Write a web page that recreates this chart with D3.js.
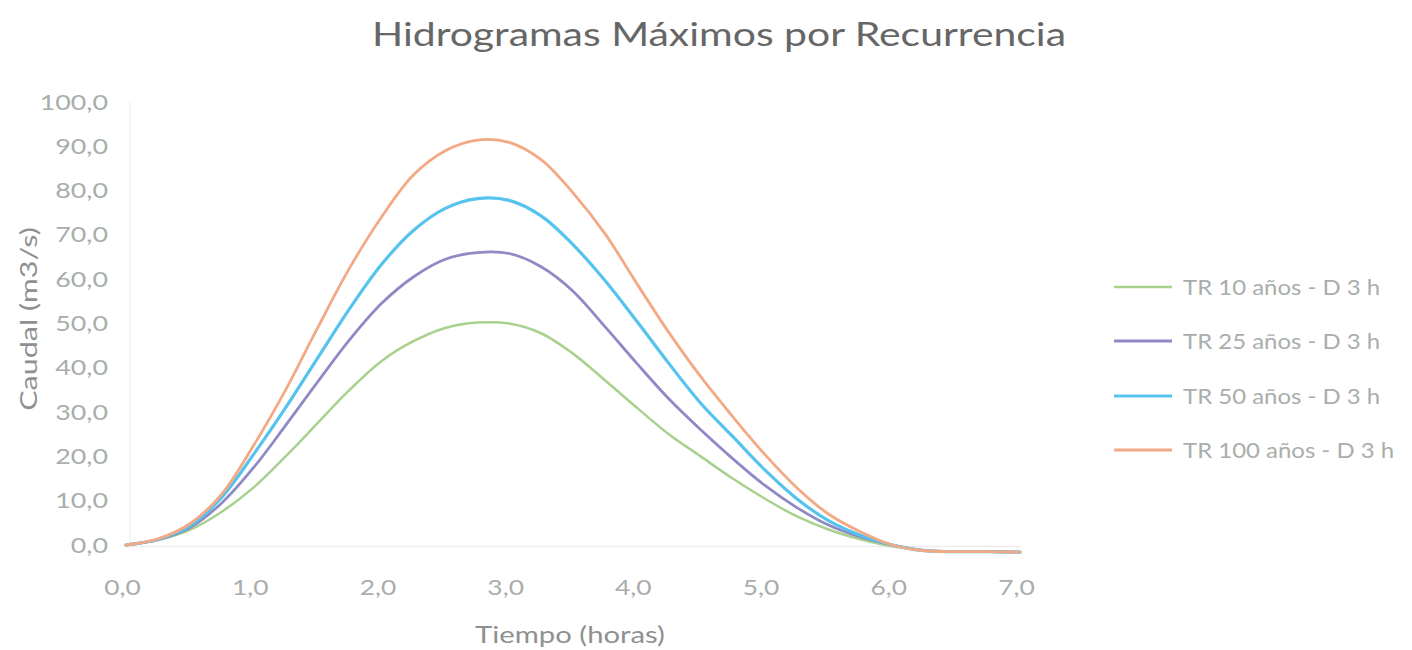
<!DOCTYPE html>
<html>
<head>
<meta charset="utf-8">
<script src="https://cdnjs.cloudflare.com/ajax/libs/d3/7.8.5/d3.min.js"></script>
<style>
  html, body { margin: 0; padding: 0; background: #ffffff; }
  svg { display: block; font-family: Lato, "Open Sans", sans-serif; }
</style>
</head>
<body>
<svg id="chart" width="1412" height="650"></svg>
<script>
// Time axis (hours) shared by every hydrograph
const hours = [0, 0.25, 0.5, 0.75, 1, 1.25, 1.5, 1.75, 2, 2.25, 2.5, 2.75, 3, 3.25, 3.5,
               3.75, 4, 4.25, 4.5, 4.75, 5, 5.25, 5.5, 5.75, 6, 6.25, 6.5, 6.75, 7];

// Discharge (m3/s) per return period, storm duration 3 h
const tr10  = [0, 1.1, 3.4, 7.5, 13.0, 20.0, 27.5, 35.0, 41.5, 46.0, 49.0, 50.2, 50.0, 47.8, 43.2,
               37.2, 31.0, 25.0, 20.0, 15.0, 10.5, 6.5, 3.5, 1.3, -0.3, -1.2, -1.5, -1.5, -1.6];
const tr25  = [0, 1.2, 3.9, 9.5, 17.5, 27.0, 36.8, 46.3, 54.5, 60.5, 64.5, 66.0, 65.8, 62.8, 57.3,
               49.3, 41.0, 33.0, 26.0, 19.5, 13.5, 8.5, 4.5, 1.8, 0.0, -1.2, -1.5, -1.5, -1.6];
const tr50  = [0, 1.3, 4.3, 10.8, 20.5, 31.0, 42.2, 53.3, 63.3, 71.0, 76.0, 78.2, 77.8, 74.3, 67.8,
               59.7, 50.5, 41.0, 32.0, 24.5, 17.0, 10.5, 5.5, 2.2, 0.0, -1.3, -1.5, -1.5, -1.6];
const tr100 = [0, 1.4, 4.8, 11.5, 22.5, 35.0, 49.0, 62.5, 74.0, 83.5, 89.0, 91.4, 90.9, 87.0, 79.5,
               70.3, 59.0, 48.0, 38.0, 29.0, 20.5, 13.0, 7.0, 3.0, 0.0, -1.3, -1.5, -1.5, -1.6];

const seriesNames  = ["TR 10 años - D 3 h", "TR 25 años - D 3 h", "TR 50 años - D 3 h", "TR 100 años - D 3 h"];
const seriesColors = ["#a9d18e", "#8f8ac6", "#55c3ee", "#f4a985"];
const seriesWidths = [2.5, 2.8, 3.2, 2.8];

const yTicks = [0, 10, 20, 30, 40, 50, 60, 70, 80, 90, 100];
const xTicks = [0, 1, 2, 3, 4, 5, 6, 7];

const titleText = "Hidrogramas Máximos por Recurrencia";
const xTitle = "Tiempo (horas)";
const yTitle = "Caudal (m3/s)";

const allSeries = [tr10, tr25, tr50, tr100];

const svg = d3.select("#chart");
const locale = d3.formatLocale({ decimal: ",", thousands: ".", grouping: [3], currency: ["", ""] });
const fmt = locale.format(".1f");

const x = d3.scaleLinear().domain([0, 7]).range([126, 1020]);
const y = d3.scaleLinear().domain([0, 100]).range([545, 102]);

const labelColor = "#a8aeab";
const titleColor = "#666666";
const axisTitleColor = "#8e9190";

// Widen text horizontally (the lettering is broad and open)
function widen(sel, k) {
  sel.each(function () {
    const len = this.getComputedTextLength();
    d3.select(this).attr("textLength", len * k).attr("lengthAdjust", "spacingAndGlyphs");
  });
}

// Title
svg.append("text")
  .attr("x", 719).attr("y", 46)
  .attr("text-anchor", "middle")
  .attr("font-size", 33)
  .attr("fill", titleColor)
  .attr("textLength", 694).attr("lengthAdjust", "spacingAndGlyphs")
  .text(titleText);

// Faint axis lines
svg.append("line")
  .attr("x1", x(0)).attr("x2", x(7)).attr("y1", y(0) + 1.5).attr("y2", y(0) + 1.5)
  .attr("stroke", "#ececec").attr("stroke-width", 1.5);
svg.append("line")
  .attr("x1", x(0) + 4).attr("x2", x(0) + 4).attr("y1", y(100)).attr("y2", y(0))
  .attr("stroke", "#f3f3f3").attr("stroke-width", 1.5);

// Y axis tick labels
const yAxis = d3.axisLeft(y).tickValues(yTicks).tickFormat(fmt).tickSize(0).tickPadding(0);
const gy = svg.append("g").attr("transform", "translate(108,0)").call(yAxis);
gy.select(".domain").remove();
gy.selectAll("text")
  .attr("font-size", 22)
  .attr("fill", labelColor)
  .attr("font-family", "Lato, sans-serif")
  .call(widen, 1.22);

// X axis tick labels
const xAxis = d3.axisBottom(x).tickValues(xTicks).tickFormat(fmt).tickSize(0).tickPadding(0);
const gx = svg.append("g").attr("transform", "translate(-4,579)").call(xAxis);
gx.select(".domain").remove();
gx.selectAll("text")
  .attr("font-size", 22)
  .attr("fill", labelColor)
  .attr("font-family", "Lato, sans-serif")
  .call(widen, 1.2);

// Axis titles
svg.append("text")
  .attr("x", 570).attr("y", 643)
  .attr("text-anchor", "middle")
  .attr("font-size", 24)
  .attr("fill", axisTitleColor)
  .text(xTitle)
  .call(widen, 1.22);
svg.append("text")
  .attr("transform", "translate(37,319) rotate(-90)")
  .attr("text-anchor", "middle")
  .attr("font-size", 24)
  .attr("fill", axisTitleColor)
  .text(yTitle)
  .call(widen, 1.27);

// Hydrograph lines
const line = d3.line()
  .x((d, i) => x(hours[i]))
  .y(d => y(d))
  .curve(d3.curveCatmullRom.alpha(0.5));

svg.append("g").selectAll("path")
  .data(allSeries)
  .join("path")
  .attr("d", d => line(d))
  .attr("fill", "none")
  .attr("stroke", (d, i) => seriesColors[i])
  .attr("stroke-width", (d, i) => seriesWidths[i])
  .attr("stroke-linejoin", "round")
  .attr("stroke-linecap", "round");

// Legend
const legendY = [287, 341, 396, 450];
const lg = svg.append("g").selectAll("g")
  .data(seriesNames)
  .join("g")
  .attr("transform", (d, i) => `translate(1114,${legendY[i]})`);
lg.append("line")
  .attr("x1", 0).attr("x2", 58).attr("y1", 0).attr("y2", 0)
  .attr("stroke", (d, i) => seriesColors[i])
  .attr("stroke-width", (d, i) => seriesWidths[i]);
lg.append("text")
  .attr("x", 69).attr("y", 8)
  .attr("font-size", 21)
  .attr("fill", labelColor)
  .text(d => d)
  .call(widen, 1.14);
</script>
</body>
</html>
